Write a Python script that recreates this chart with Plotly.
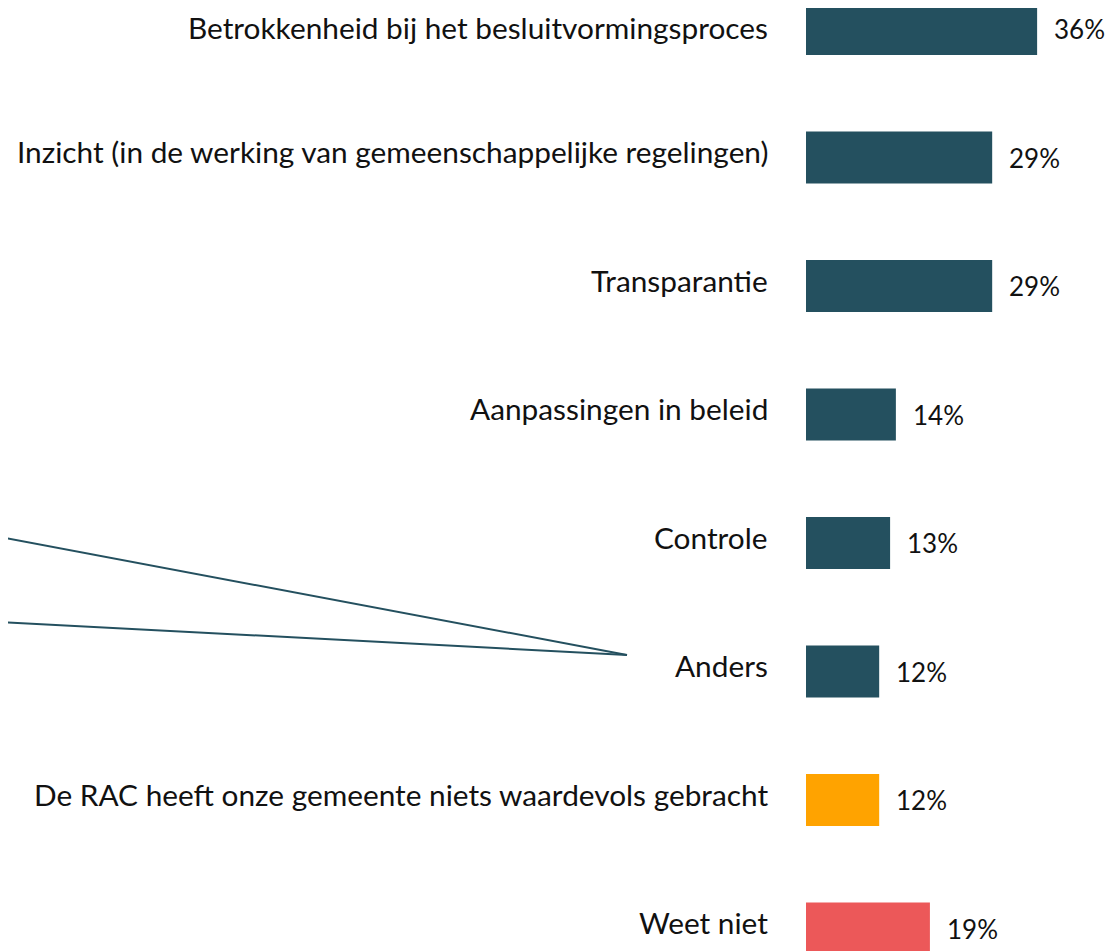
import plotly.graph_objects as go

categories = [
    "Betrokkenheid bij het besluitvormingsproces",
    "Inzicht (in de werking van gemeenschappelijke regelingen)",
    "Transparantie",
    "Aanpassingen in beleid",
    "Controle",
    "Anders",
    "De RAC heeft onze gemeente niets waardevols gebracht",
    "Weet niet",
]
values = [36.0, 29.0, 29.0, 14.0, 13.1, 11.4, 11.4, 19.3]
value_labels = ["36%", "29%", "29%", "14%", "13%", "12%", "12%", "19%"]
colors = ["#24505F"] * 6 + ["#FFA300", "#EC5859"]

# page body has an 8px margin; figure sized to fit the window
OFF = 8
W, H = 1117 - OFF, 951 - OFF
left = 806 - OFF
PX_PER_UNIT = 6.42
PITCH = 128.5
FIRST = 29 - OFF

fig = go.Figure()
fig.add_trace(go.Bar(
    y=list(range(len(categories))), x=values, orientation="h",
    marker=dict(color=colors, line=dict(width=0)),
    width=0.405, hoverinfo="skip",
))
for i, (c, v, t) in enumerate(zip(categories, values, value_labels)):
    fig.add_annotation(x=v, y=i, text=t, showarrow=False, xanchor="left",
                       xshift=15, yshift=0, font=dict(size=26, color="#111111", family="Lato"))
    fig.add_annotation(x=0, xref="paper", y=i, text=c, showarrow=False, xanchor="right",
                       xshift=-37, yshift=6 if i > 0 else 2, borderpad=0,
                       font=dict(size=29.8, color="#111111", family="Lato"))

# callout lines from "Anders"
def px_x(p):
    return (p - OFF - left) / (W - left)
def px_y(p):
    return (H - (p - OFF)) / H
line_style = dict(color="#24505F", width=2)
fig.add_shape(type="line", xref="paper", yref="paper", x0=px_x(0), y0=px_y(537), x1=px_x(627), y1=px_y(655), line=line_style)
fig.add_shape(type="line", xref="paper", yref="paper", x0=px_x(0), y0=px_y(622), x1=px_x(627), y1=px_y(655), line=line_style)

fig.update_layout(
    width=W, height=H,
    margin=dict(l=left, r=0, t=0, b=0),
    paper_bgcolor="white", plot_bgcolor="white",
    showlegend=False,
    font=dict(family="Lato", color="#111111"),
)
fig.update_xaxes(range=[0, (W - left) / PX_PER_UNIT], visible=False, showgrid=False)
top = -FIRST / PITCH
bottom = (len(categories) - 1) + (H - (FIRST + (len(categories) - 1) * PITCH)) / PITCH
fig.update_yaxes(range=[bottom, top], visible=False, showgrid=False, zeroline=False)
fig.write_html("out.html")
